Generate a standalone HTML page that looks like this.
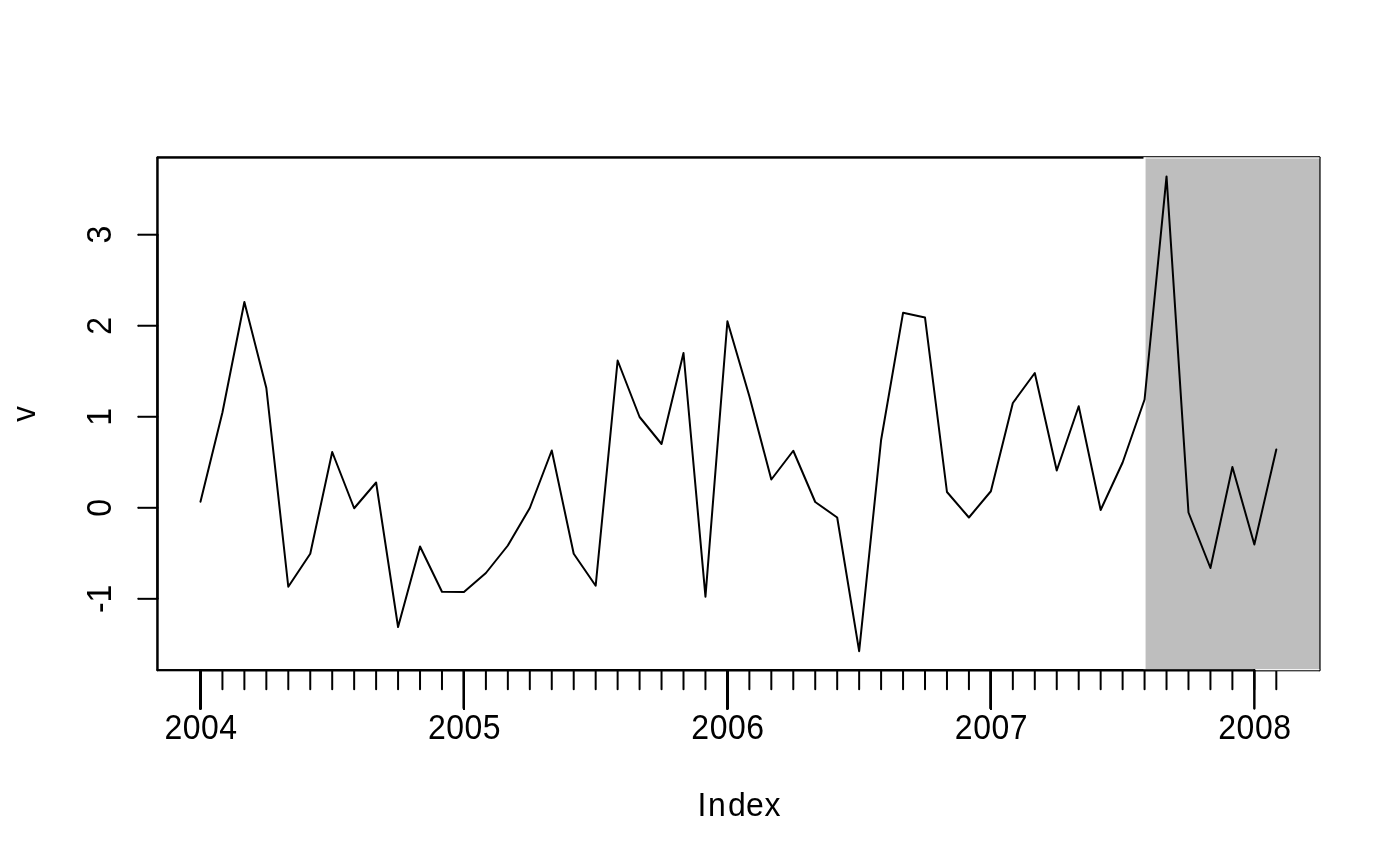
<!DOCTYPE html>
<html lang="en"><head><meta charset="utf-8"><title>plot of v</title>
<style>html,body{margin:0;padding:0;background:#fff;overflow:hidden}svg{display:block}text{font-family:"Liberation Sans",sans-serif;font-size:32px;fill:#000}</style></head><body>
<svg width="1400" height="866" viewBox="0 0 1400 866">
<rect x="0" y="0" width="1400" height="866" fill="#fff"/>
<g fill="#000">
<rect x="157.44" y="156.44" width="1161.92" height="2"/>
<rect x="157.44" y="669.16" width="1161.92" height="2"/>
<rect x="156.44" y="157.44" width="2" height="512.72"/>
<rect x="1318.36" y="157.44" width="2" height="512.72"/>
<circle cx="157.44" cy="157.44" r="1"/><circle cx="1319.36" cy="157.44" r="1"/><circle cx="157.44" cy="670.16" r="1"/><circle cx="1319.36" cy="670.16" r="1"/>
<rect x="157.44" y="156.44" width="1161.92" height="2"/>
<rect x="157.44" y="669.16" width="1161.92" height="2"/>
<rect x="156.44" y="157.44" width="2" height="512.72"/>
<rect x="1318.36" y="157.44" width="2" height="512.72"/>
<circle cx="157.44" cy="157.44" r="1"/><circle cx="1319.36" cy="157.44" r="1"/><circle cx="157.44" cy="670.16" r="1"/><circle cx="1319.36" cy="670.16" r="1"/>
<rect x="200.47" y="669.16" width="1075.84" height="2"/><circle cx="200.47" cy="670.16" r="1"/><circle cx="1276.31" cy="670.16" r="1"/>
<rect x="156.44" y="234.71" width="2" height="364.12"/><circle cx="157.44" cy="598.83" r="1"/><circle cx="157.44" cy="234.71" r="1"/>
</g>
<g stroke="#000" stroke-width="2" stroke-linecap="round">
<line x1="200.47" y1="670.16" x2="200.47" y2="689.36"/>
<line x1="222.43" y1="670.16" x2="222.43" y2="689.36"/>
<line x1="244.38" y1="670.16" x2="244.38" y2="689.36"/>
<line x1="266.34" y1="670.16" x2="266.34" y2="689.36"/>
<line x1="288.29" y1="670.16" x2="288.29" y2="689.36"/>
<line x1="310.25" y1="670.16" x2="310.25" y2="689.36"/>
<line x1="332.21" y1="670.16" x2="332.21" y2="689.36"/>
<line x1="354.16" y1="670.16" x2="354.16" y2="689.36"/>
<line x1="376.12" y1="670.16" x2="376.12" y2="689.36"/>
<line x1="398.07" y1="670.16" x2="398.07" y2="689.36"/>
<line x1="420.03" y1="670.16" x2="420.03" y2="689.36"/>
<line x1="441.98" y1="670.16" x2="441.98" y2="689.36"/>
<line x1="463.94" y1="670.16" x2="463.94" y2="689.36"/>
<line x1="485.90" y1="670.16" x2="485.90" y2="689.36"/>
<line x1="507.85" y1="670.16" x2="507.85" y2="689.36"/>
<line x1="529.81" y1="670.16" x2="529.81" y2="689.36"/>
<line x1="551.76" y1="670.16" x2="551.76" y2="689.36"/>
<line x1="573.72" y1="670.16" x2="573.72" y2="689.36"/>
<line x1="595.68" y1="670.16" x2="595.68" y2="689.36"/>
<line x1="617.63" y1="670.16" x2="617.63" y2="689.36"/>
<line x1="639.59" y1="670.16" x2="639.59" y2="689.36"/>
<line x1="661.54" y1="670.16" x2="661.54" y2="689.36"/>
<line x1="683.50" y1="670.16" x2="683.50" y2="689.36"/>
<line x1="705.45" y1="670.16" x2="705.45" y2="689.36"/>
<line x1="727.41" y1="670.16" x2="727.41" y2="689.36"/>
<line x1="749.37" y1="670.16" x2="749.37" y2="689.36"/>
<line x1="771.32" y1="670.16" x2="771.32" y2="689.36"/>
<line x1="793.28" y1="670.16" x2="793.28" y2="689.36"/>
<line x1="815.23" y1="670.16" x2="815.23" y2="689.36"/>
<line x1="837.19" y1="670.16" x2="837.19" y2="689.36"/>
<line x1="859.15" y1="670.16" x2="859.15" y2="689.36"/>
<line x1="881.10" y1="670.16" x2="881.10" y2="689.36"/>
<line x1="903.06" y1="670.16" x2="903.06" y2="689.36"/>
<line x1="925.01" y1="670.16" x2="925.01" y2="689.36"/>
<line x1="946.97" y1="670.16" x2="946.97" y2="689.36"/>
<line x1="968.92" y1="670.16" x2="968.92" y2="689.36"/>
<line x1="990.88" y1="670.16" x2="990.88" y2="689.36"/>
<line x1="1012.84" y1="670.16" x2="1012.84" y2="689.36"/>
<line x1="1034.79" y1="670.16" x2="1034.79" y2="689.36"/>
<line x1="1056.75" y1="670.16" x2="1056.75" y2="689.36"/>
<line x1="1078.70" y1="670.16" x2="1078.70" y2="689.36"/>
<line x1="1100.66" y1="670.16" x2="1100.66" y2="689.36"/>
<line x1="1122.62" y1="670.16" x2="1122.62" y2="689.36"/>
<line x1="1144.57" y1="670.16" x2="1144.57" y2="689.36"/>
<line x1="1166.53" y1="670.16" x2="1166.53" y2="689.36"/>
<line x1="1188.48" y1="670.16" x2="1188.48" y2="689.36"/>
<line x1="1210.44" y1="670.16" x2="1210.44" y2="689.36"/>
<line x1="1232.39" y1="670.16" x2="1232.39" y2="689.36"/>
<line x1="1254.35" y1="670.16" x2="1254.35" y2="689.36"/>
<line x1="1276.31" y1="670.16" x2="1276.31" y2="689.36"/>
</g>
<g fill="#000">
<rect x="138.24" y="597.83" width="19.20" height="2"/><circle cx="138.24" cy="598.83" r="1"/><circle cx="157.44" cy="598.83" r="1"/>
<rect x="138.24" y="506.80" width="19.20" height="2"/><circle cx="138.24" cy="507.80" r="1"/><circle cx="157.44" cy="507.80" r="1"/>
<rect x="138.24" y="415.77" width="19.20" height="2"/><circle cx="138.24" cy="416.77" r="1"/><circle cx="157.44" cy="416.77" r="1"/>
<rect x="138.24" y="324.74" width="19.20" height="2"/><circle cx="138.24" cy="325.74" r="1"/><circle cx="157.44" cy="325.74" r="1"/>
<rect x="138.24" y="233.71" width="19.20" height="2"/><circle cx="138.24" cy="234.71" r="1"/><circle cx="157.44" cy="234.71" r="1"/>
</g>
<rect x="1144.57" y="157.44" width="174.79" height="512.72" fill="#bebebe"/>
<g fill="#fff">
<rect x="1143.57" y="157.44" width="175.79" height="1"/>
<rect x="1143.57" y="669.16" width="175.79" height="1"/>
<rect x="1143.57" y="157.44" width="2" height="512.72"/>
</g>
<polyline points="200.47,501.75 222.43,412.50 244.38,302.00 266.34,388.00 288.29,586.75 310.25,553.75 332.21,452.00 354.16,508.25 376.12,482.50 398.07,627.00 420.03,546.50 441.98,591.75 463.94,592.00 485.90,573.00 507.85,545.50 529.81,508.00 551.76,450.50 573.72,553.75 595.68,585.75 617.63,360.50 639.59,417.00 661.54,444.00 683.50,353.00 705.45,596.70 727.41,321.25 749.37,396.25 771.32,479.50 793.28,450.75 815.23,502.00 837.19,517.50 859.15,651.20 881.10,440.00 903.06,312.85 925.01,317.60 946.97,492.00 968.92,517.50 990.88,491.25 1012.84,403.00 1034.79,373.00 1056.75,470.50 1078.70,406.25 1100.66,510.00 1122.62,462.50 1144.57,399.50 1166.53,176.40 1188.48,512.50 1210.44,568.00 1232.39,467.00 1254.35,544.50 1276.31,449.50" fill="none" stroke="#000" stroke-width="2" stroke-linejoin="round" stroke-linecap="round"/>
<g fill="#000"><rect x="200.47" y="669.16" width="1053.88" height="2"/><circle cx="200.47" cy="670.16" r="1"/><circle cx="1254.35" cy="670.16" r="1"/></g>
<g stroke="#000" stroke-width="2" stroke-linecap="round">
<line x1="200.47" y1="670.16" x2="200.47" y2="708.56"/>
<line x1="200.47" y1="670.16" x2="200.47" y2="708.56"/>
<line x1="200.47" y1="670.16" x2="200.47" y2="708.56"/>
<line x1="200.47" y1="670.16" x2="200.47" y2="708.56"/>
<line x1="200.47" y1="670.16" x2="200.47" y2="708.56"/>
<line x1="200.47" y1="670.16" x2="200.47" y2="708.56"/>
<line x1="200.47" y1="670.16" x2="200.47" y2="708.56"/>
<line x1="200.47" y1="670.16" x2="200.47" y2="708.56"/>
<line x1="200.47" y1="670.16" x2="200.47" y2="708.56"/>
<line x1="200.47" y1="670.16" x2="200.47" y2="708.56"/>
<line x1="200.47" y1="670.16" x2="200.47" y2="708.56"/>
<line x1="200.47" y1="670.16" x2="200.47" y2="708.56"/>
<line x1="463.94" y1="670.16" x2="463.94" y2="708.56"/>
<line x1="463.94" y1="670.16" x2="463.94" y2="708.56"/>
<line x1="463.94" y1="670.16" x2="463.94" y2="708.56"/>
<line x1="463.94" y1="670.16" x2="463.94" y2="708.56"/>
<line x1="463.94" y1="670.16" x2="463.94" y2="708.56"/>
<line x1="463.94" y1="670.16" x2="463.94" y2="708.56"/>
<line x1="463.94" y1="670.16" x2="463.94" y2="708.56"/>
<line x1="463.94" y1="670.16" x2="463.94" y2="708.56"/>
<line x1="463.94" y1="670.16" x2="463.94" y2="708.56"/>
<line x1="463.94" y1="670.16" x2="463.94" y2="708.56"/>
<line x1="463.94" y1="670.16" x2="463.94" y2="708.56"/>
<line x1="463.94" y1="670.16" x2="463.94" y2="708.56"/>
<line x1="727.41" y1="670.16" x2="727.41" y2="708.56"/>
<line x1="727.41" y1="670.16" x2="727.41" y2="708.56"/>
<line x1="727.41" y1="670.16" x2="727.41" y2="708.56"/>
<line x1="727.41" y1="670.16" x2="727.41" y2="708.56"/>
<line x1="727.41" y1="670.16" x2="727.41" y2="708.56"/>
<line x1="727.41" y1="670.16" x2="727.41" y2="708.56"/>
<line x1="727.41" y1="670.16" x2="727.41" y2="708.56"/>
<line x1="727.41" y1="670.16" x2="727.41" y2="708.56"/>
<line x1="727.41" y1="670.16" x2="727.41" y2="708.56"/>
<line x1="727.41" y1="670.16" x2="727.41" y2="708.56"/>
<line x1="727.41" y1="670.16" x2="727.41" y2="708.56"/>
<line x1="727.41" y1="670.16" x2="727.41" y2="708.56"/>
<line x1="990.88" y1="670.16" x2="990.88" y2="708.56"/>
<line x1="990.88" y1="670.16" x2="990.88" y2="708.56"/>
<line x1="990.88" y1="670.16" x2="990.88" y2="708.56"/>
<line x1="990.88" y1="670.16" x2="990.88" y2="708.56"/>
<line x1="990.88" y1="670.16" x2="990.88" y2="708.56"/>
<line x1="990.88" y1="670.16" x2="990.88" y2="708.56"/>
<line x1="990.88" y1="670.16" x2="990.88" y2="708.56"/>
<line x1="990.88" y1="670.16" x2="990.88" y2="708.56"/>
<line x1="990.88" y1="670.16" x2="990.88" y2="708.56"/>
<line x1="990.88" y1="670.16" x2="990.88" y2="708.56"/>
<line x1="990.88" y1="670.16" x2="990.88" y2="708.56"/>
<line x1="990.88" y1="670.16" x2="990.88" y2="708.56"/>
<line x1="1254.35" y1="670.16" x2="1254.35" y2="708.56"/>
<line x1="1254.35" y1="670.16" x2="1254.35" y2="708.56"/>
</g>
<text transform="translate(201.02,738.60) scale(1.0,1.08)" text-anchor="middle" letter-spacing="0.5">2004</text>
<text transform="translate(464.49,738.60) scale(1.0,1.08)" text-anchor="middle" letter-spacing="0.5">2005</text>
<text transform="translate(727.96,738.60) scale(1.0,1.08)" text-anchor="middle" letter-spacing="0.5">2006</text>
<text transform="translate(991.43,738.60) scale(1.0,1.08)" text-anchor="middle" letter-spacing="0.5">2007</text>
<text transform="translate(1254.90,738.60) scale(1.0,1.08)" text-anchor="middle" letter-spacing="0.5">2008</text>
<text transform="translate(111.20,598.83) rotate(-90) scale(1.0,1.09)" text-anchor="middle">-1</text>
<text transform="translate(111.20,507.80) rotate(-90) scale(1.0,1.09)" text-anchor="middle">0</text>
<text transform="translate(111.20,416.77) rotate(-90) scale(1.0,1.09)" text-anchor="middle">1</text>
<text transform="translate(111.20,325.74) rotate(-90) scale(1.0,1.09)" text-anchor="middle">2</text>
<text transform="translate(111.20,234.71) rotate(-90) scale(1.0,1.09)" text-anchor="middle">3</text>
<text transform="translate(0,815.6) scale(1,1.06)" x="697.4 708 727.9 746 764.5">Index</text>
<text transform="translate(34.90,413.80) rotate(-90) scale(0.98,1.065)" text-anchor="middle">v</text>
</svg></body></html>
